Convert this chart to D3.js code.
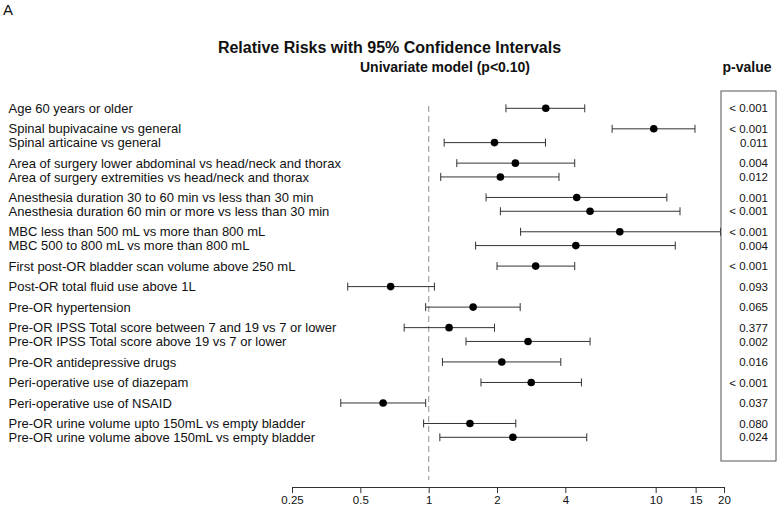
<!DOCTYPE html>
<html>
<head>
<meta charset="utf-8">
<script src="https://cdn.jsdelivr.net/npm/d3@7"></script>
<style>
  body { margin: 0; background: #fff; }
  svg { display: block; }
  text { font-family: "Liberation Sans", Arial, sans-serif; fill: #111; }
</style>
</head>
<body>
<svg id="chart" width="778" height="507"></svg>
<script>
const labels = [
  "Age 60 years or older",
  "Spinal bupivacaine vs general",
  "Spinal articaine vs general",
  "Area of surgery lower abdominal vs head/neck and thorax",
  "Area of surgery extremities vs head/neck and thorax",
  "Anesthesia duration 30 to 60 min vs less than 30 min",
  "Anesthesia duration 60 min or more vs less than 30 min",
  "MBC less than 500 mL vs more than 800 mL",
  "MBC 500 to 800 mL vs more than 800 mL",
  "First post-OR bladder scan volume above 250 mL",
  "Post-OR total fluid use above 1L",
  "Pre-OR hypertension",
  "Pre-OR IPSS Total score between 7 and 19 vs 7 or lower",
  "Pre-OR IPSS Total score above 19 vs 7 or lower",
  "Pre-OR antidepressive drugs",
  "Peri-operative use of diazepam",
  "Peri-operative use of NSAID",
  "Pre-OR urine volume upto 150mL vs empty bladder",
  "Pre-OR urine volume above 150mL vs empty bladder"
];
// group id of each row (rows in the same group are stacked tightly)
const groups = [0,1,1,2,2,3,3,4,4,5,6,7,8,8,9,10,11,12,12];
const rr    = [3.28, 9.81, 1.95, 2.41, 2.07, 4.49, 5.14, 6.95, 4.45, 2.96, 0.68, 1.57, 1.23, 2.74, 2.10, 2.83, 0.63, 1.52, 2.35];
const lower = [2.19, 6.43, 1.17, 1.33, 1.13, 1.79, 2.07, 2.54, 1.61, 2.00, 0.44, 0.97, 0.78, 1.46, 1.15, 1.70, 0.41, 0.95, 1.12];
const upper = [4.87, 14.9, 3.27, 4.40, 3.75, 11.2, 12.8, 19.3, 12.2, 4.40, 1.06, 2.53, 1.95, 5.14, 3.82, 4.71, 0.97, 2.42, 4.97];
const pvals = ["< 0.001","< 0.001","0.011","0.004","0.012","0.001","< 0.001","< 0.001","0.004","< 0.001","0.093","0.065","0.377","0.002","0.016","< 0.001","0.037","0.080","0.024"];
const tickValues = [0.25, 0.5, 1, 2, 4, 10, 15, 20];

const svg = d3.select("#chart");

// row position units: new group = 1 unit, same group = 0.673 unit
const pos = [];
groups.forEach((g, i) => {
  if (i === 0) pos.push(0);
  else pos.push(pos[i-1] + (g === groups[i-1] ? 0.673 : 1));
});

const x = d3.scaleLog().domain([0.25, 20]).range([292, 724]);
const y = d3.scaleLinear().domain([0, pos[pos.length-1]]).range([108.3, 437.3]);

// Title texts
svg.append("text").attr("x", 3).attr("y", 14.5).style("font-size", "15px").text("A");
svg.append("text").attr("x", 389.5).attr("y", 53).attr("text-anchor", "middle")
  .style("font-size", "16px").style("font-weight", "bold")
  .text("Relative Risks with 95% Confidence Intervals");
svg.append("text").attr("x", 445).attr("y", 72).attr("text-anchor", "middle")
  .style("font-size", "14px").style("font-weight", "bold")
  .text("Univariate model (p<0.10)");
svg.append("text").attr("x", 747).attr("y", 72).attr("text-anchor", "middle")
  .style("font-size", "14px").style("font-weight", "bold")
  .text("p-value");

// reference line at 1
svg.append("line")
  .attr("x1", x(1)).attr("x2", x(1)).attr("y1", 106).attr("y2", 480)
  .attr("stroke", "#aaa").attr("stroke-width", 1.3).attr("stroke-dasharray", "6,4");

// row labels
svg.append("g").selectAll("text").data(labels).join("text")
  .attr("x", 8.5).attr("y", (d, i) => y(pos[i])).attr("dy", "0.36em")
  .style("font-size", "13px").attr("fill", "#1a1a1a").text(d => d);

// CIs
const rows = svg.append("g").selectAll("g").data(rr).join("g");
rows.append("line")
  .attr("x1", (d, i) => x(lower[i])).attr("x2", (d, i) => x(upper[i]))
  .attr("y1", (d, i) => y(pos[i])).attr("y2", (d, i) => y(pos[i]))
  .attr("stroke", "#333").attr("stroke-width", 1);
rows.append("line")
  .attr("x1", (d, i) => x(lower[i])).attr("x2", (d, i) => x(lower[i]))
  .attr("y1", (d, i) => y(pos[i]) - 4).attr("y2", (d, i) => y(pos[i]) + 4)
  .attr("stroke", "#333").attr("stroke-width", 1);
rows.append("line")
  .attr("x1", (d, i) => x(upper[i])).attr("x2", (d, i) => x(upper[i]))
  .attr("y1", (d, i) => y(pos[i]) - 4).attr("y2", (d, i) => y(pos[i]) + 4)
  .attr("stroke", "#333").attr("stroke-width", 1);
rows.append("circle")
  .attr("cx", d => x(d)).attr("cy", (d, i) => y(pos[i])).attr("r", 3.8)
  .attr("fill", "#000");

// p-value box
svg.append("rect").attr("x", 721).attr("y", 91).attr("width", 55).attr("height", 370)
  .attr("fill", "none").attr("stroke", "#555").attr("stroke-width", 1);
svg.append("g").selectAll("text").data(pvals).join("text")
  .attr("x", 768).attr("y", (d, i) => y(pos[i])).attr("dy", "0.36em")
  .attr("text-anchor", "end").style("font-size", "11.5px").attr("fill", "#1a1a1a").text(d => d);

// axis
const axis = d3.axisBottom(x).tickValues(tickValues).tickFormat(d => String(d)).tickSize(6).tickPadding(2.5);
const ag = svg.append("g").attr("transform", "translate(0,487)").call(axis);
ag.select(".domain").attr("stroke", "#333");
ag.selectAll(".tick line").attr("stroke", "#333");
ag.selectAll(".tick text").style("font-size", "11.5px").style("font-family", "'Liberation Sans', Arial, sans-serif").attr("fill", "#222");
</script>
</body>
</html>
